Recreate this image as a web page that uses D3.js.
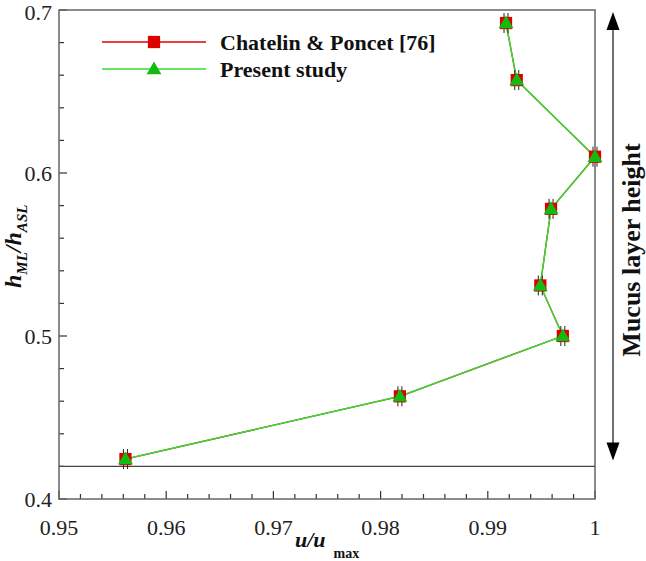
<!DOCTYPE html>
<html lang="en">
<head>
	<meta charset="UTF-8">
	<title>Velocity profile</title>
	<style>
		body { margin: 0; background: #fff; }
		text { font-family: "Liberation Serif", "Times New Roman", serif; }
	</style>
</head>
<body>
	<svg id="chart" width="646" height="561"></svg>
	<script type="text/javascript" src="https://cdn.jsdelivr.net/npm/d3@7/dist/d3.min.js"></script>
	<script type="text/javascript">
		// values (u/umax, hML/hASL)
		var uRef = [0.9917, 0.9927, 1.0, 0.9959, 0.9949, 0.9970, 0.9818, 0.9562];
		var hRef = [0.692, 0.657, 0.610, 0.578, 0.531, 0.500, 0.463, 0.4245];
		var uPresent = [0.9917, 0.9927, 1.0, 0.9959, 0.9949, 0.9970, 0.9818, 0.9562];
		var hPresent = [0.692, 0.657, 0.610, 0.578, 0.531, 0.500, 0.463, 0.4245];
		var seriesNames = ["Chatelin & Poncet [76]", "Present study"];
		var xTicks = [0.95, 0.96, 0.97, 0.98, 0.99, 1];
		var yTicks = [0.4, 0.5, 0.6, 0.7];
		var mucusBase = 0.42;

		var svg = d3.select("#chart");
		// plot box (note: "top" is taken by window.top, so use own names)
		var pLeft = 59, pRight = 595, pTop = 10, pBottom = 499;

		var x = d3.scaleLinear().domain([0.95, 1]).range([pLeft, pRight]);
		var y = d3.scaleLinear().domain([0.4, 0.7]).range([pBottom, pTop]);

		// minor ticks every 0.002 on x and 0.02 on y
		var xMinor = d3.range(0, 26).map(function(i) { return 0.95 + i * 0.002; });
		var yMinor = d3.range(0, 16).map(function(i) { return 0.4 + i * 0.02; });

		var g = svg.append("g");

		// inward ticks
		g.selectAll(".xminor").data(xMinor).enter().append("line")
			.attr("x1", function(d) { return x(d); }).attr("x2", function(d) { return x(d); })
			.attr("y1", pBottom).attr("y2", function(d, i) { return pBottom - (i % 5 == 0 ? 8 : 5); })
			.attr("stroke", "#333").attr("stroke-width", 1.2);
		g.selectAll(".yminor").data(yMinor).enter().append("line")
			.attr("y1", function(d) { return y(d); }).attr("y2", function(d) { return y(d); })
			.attr("x1", pLeft).attr("x2", function(d, i) { return pLeft + (i % 5 == 0 ? 8 : 5); })
			.attr("stroke", "#333").attr("stroke-width", 1.2);

		// frame
		g.append("rect").attr("x", pLeft).attr("y", pTop)
			.attr("width", pRight - pLeft).attr("height", pBottom - pTop)
			.attr("fill", "none").attr("stroke", "#666").attr("stroke-width", 1.5);

		// mucus layer base line
		g.append("line").attr("x1", pLeft).attr("x2", pRight)
			.attr("y1", y(mucusBase)).attr("y2", y(mucusBase))
			.attr("stroke", "#444").attr("stroke-width", 1.3);

		// tick labels
		g.selectAll(".xl").data(xTicks).enter().append("text")
			.attr("x", function(d) { return x(d); }).attr("y", 535)
			.attr("text-anchor", "middle").attr("font-size", 22).attr("fill", "#222")
			.text(function(d) { return d3.format("")(d); });
		g.selectAll(".yl").data(yTicks).enter().append("text")
			.attr("x", 52).attr("y", function(d) { return Math.max(y(d) + 8, 20); })
			.attr("text-anchor", "end").attr("font-size", 22).attr("fill", "#222")
			.text(function(d) { return d3.format(".1f")(d); });

		// axis titles
		var xt = svg.append("text").attr("x", 295).attr("y", 547)
			.attr("font-size", 22).attr("font-weight", "bold").attr("fill", "#111");
		xt.append("tspan").attr("font-style", "italic").text("u/u");
		xt.append("tspan").attr("dx", 8).attr("dy", 11).attr("font-size", 14).text("max");

		var yt = svg.append("text").attr("transform", "translate(21,288) rotate(-90)")
			.attr("font-size", 24).attr("font-weight", "bold").attr("font-style", "italic").attr("fill", "#111");
		yt.append("tspan").text("h");
		yt.append("tspan").attr("dy", 6).attr("font-size", 15).text("ML");
		yt.append("tspan").attr("dy", -6).text("/h");
		yt.append("tspan").attr("dy", 6).attr("font-size", 15).text("ASL");

		// series
		var line = d3.line().x(function(d) { return x(d[0]); }).y(function(d) { return y(d[1]); });
		var refPts = d3.zip(uRef, hRef);
		var presPts = d3.zip(uPresent, hPresent);

		g.append("path").datum(refPts).attr("d", line)
			.attr("fill", "none").attr("stroke", "#e00000").attr("stroke-width", 1.3);
		g.append("path").datum(presPts).attr("d", line)
			.attr("fill", "none").attr("stroke", "#33dd33").attr("stroke-width", 1.5);

		// small error bars behind markers
		var eb = g.selectAll(".eb").data(refPts).enter().append("g");
		[-2, 2].forEach(function(dx) {
			eb.append("line")
				.attr("x1", function(d) { return x(d[0]) + dx; }).attr("x2", function(d) { return x(d[0]) + dx; })
				.attr("y1", function(d) { return y(d[1]) - 10; }).attr("y2", function(d) { return y(d[1]) + 10; })
				.attr("stroke", "#222").attr("stroke-width", 1);
		});

		var sq = d3.symbol().type(d3.symbolSquare).size(150);
		var tri = d3.symbol().type(d3.symbolTriangle).size(95);

		g.selectAll(".sq").data(refPts).enter().append("path")
			.attr("d", sq)
			.attr("transform", function(d) { return "translate(" + x(d[0]) + "," + y(d[1]) + ")"; })
			.attr("fill", "#dd0000");
		g.selectAll(".tri").data(presPts).enter().append("path")
			.attr("d", tri)
			.attr("transform", function(d) { return "translate(" + x(d[0]) + "," + (y(d[1]) + 1) + ")"; })
			.attr("fill", "#11bb11");

		// legend
		var leg = svg.append("g");
		var legY = [42, 69];
		leg.append("line").attr("x1", 102).attr("x2", 206).attr("y1", legY[0]).attr("y2", legY[0])
			.attr("stroke", "#e00000").attr("stroke-width", 1.5);
		leg.append("path").attr("d", sq).attr("transform", "translate(154," + legY[0] + ")").attr("fill", "#dd0000");
		leg.append("line").attr("x1", 102).attr("x2", 206).attr("y1", legY[1]).attr("y2", legY[1])
			.attr("stroke", "#33dd33").attr("stroke-width", 1.5);
		leg.append("path").attr("d", tri).attr("transform", "translate(154," + (legY[1] + 1) + ")").attr("fill", "#11bb11");
		leg.selectAll(".lt").data(seriesNames).enter().append("text")
			.attr("x", 220).attr("y", function(d, i) { return legY[i] + 8; })
			.attr("font-size", 22).attr("font-weight", "bold").attr("fill", "#111")
			.text(function(d) { return d; });

		// mucus layer height double arrow
		var ax = 613, aTop = y(0.7) + 2, aBot = y(mucusBase) - 6;
		svg.append("line").attr("x1", ax).attr("x2", ax).attr("y1", aTop + 10).attr("y2", aBot - 10)
			.attr("stroke", "#222").attr("stroke-width", 1.3);
		svg.append("path").attr("d", "M" + ax + "," + aTop + " L" + (ax - 6.5) + "," + (aTop + 18) + " L" + (ax + 6.5) + "," + (aTop + 18) + "Z")
			.attr("fill", "#000");
		svg.append("path").attr("d", "M" + ax + "," + aBot + " L" + (ax - 6.5) + "," + (aBot - 18) + " L" + (ax + 6.5) + "," + (aBot - 18) + "Z")
			.attr("fill", "#000");
		svg.append("text").attr("transform", "translate(640,250) rotate(-90)")
			.attr("text-anchor", "middle").attr("font-size", 26).attr("font-weight", "bold").attr("fill", "#111")
			.text("Mucus layer height");
	</script>
</body>
</html>
